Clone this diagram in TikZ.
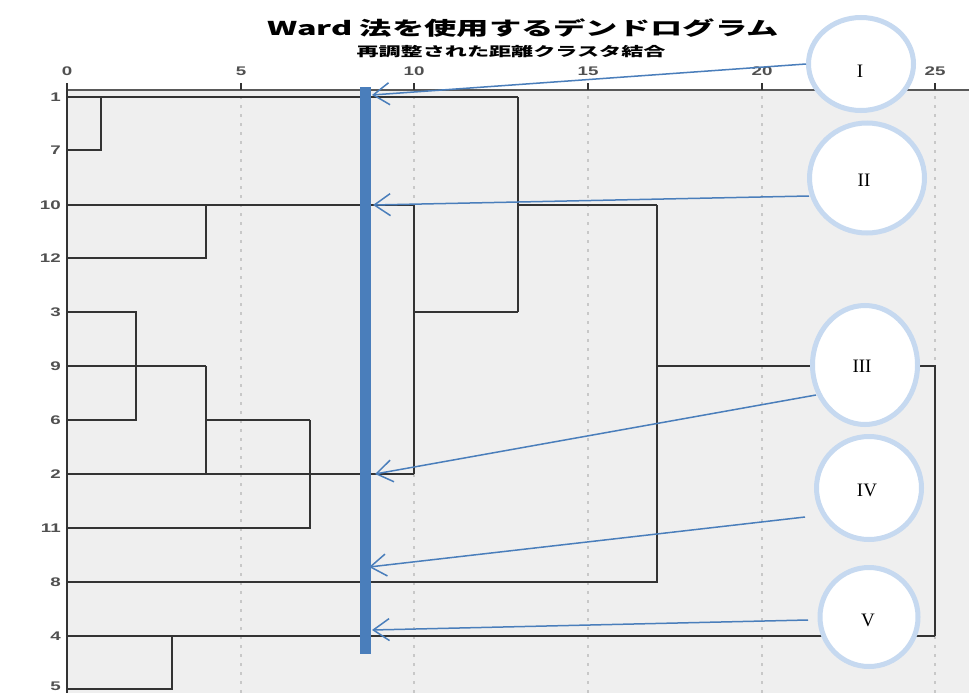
\documentclass[tikz,border=0pt]{standalone}
\usepackage{fontspec}
\setmainfont{Liberation Serif}
\setsansfont{Liberation Sans}
\newfontfamily\cjk{Noto Sans CJK JP}
\usetikzlibrary{shapes.geometric,arrows.meta}
\definecolor{bluebar}{HTML}{4A7EBB}
\definecolor{ringc}{HTML}{C6D9F0}
\definecolor{bgc}{HTML}{EFEFEF}
\definecolor{dend}{HTML}{333333}
\definecolor{gridc}{HTML}{C8C8C8}
\definecolor{labc}{HTML}{505050}
\begin{document}
\begin{tikzpicture}[x=1pt,y=-1pt,
  dline/.style={draw=dend,line width=2.2pt},
  gline/.style={draw=gridc,line width=1.5pt,dash pattern=on 3pt off 6pt},
  ticklab/.style={font=\sffamily\bfseries\fontsize{12.5}{12.5}\selectfont,text=labc,xscale=1.5,inner sep=0pt},
  rowlab/.style={font=\sffamily\bfseries\fontsize{12.5}{12.5}\selectfont,text=labc,xscale=1.5,inner sep=0pt,anchor=east},
  ring/.style={ellipse,draw=ringc,line width=5pt,fill=white,inner sep=0pt},
  numlab/.style={font=\fontsize{19}{19}\selectfont,inner sep=0pt},
  arr/.style={draw=bluebar,line width=1.5pt,-{Straight Barb[length=16pt,width=22pt,line width=1.5pt]}}]
\useasboundingbox (0,0) rectangle (969,693);
\fill[white] (0,0) rectangle (969,693);
\fill[bgc] (67,90) rectangle (969,693);
% titles
\node[font=\cjk\bfseries\fontsize{19}{19}\selectfont,xscale=1.7,inner sep=0pt] (title) at (523,28) {Ward 法を使用するデンドログラム};
\node[font=\cjk\bfseries\fontsize{13}{13}\selectfont,xscale=1.7,inner sep=0pt] (subtitle) at (511,52) {再調整された距離クラスタ結合};
% grid lines
\foreach \gx in {241,414,588,762,935} \draw[gline] (\gx,96) -- (\gx,693);
% axes
\draw[draw=gray!70!black,line width=2.2pt] (67,90) -- (969,90);
\foreach \gx/\lab in {67/0,241/5,414/10,588/15,762/20,935/25}{
  \draw[draw=dend,line width=1.5pt] (\gx,83) -- (\gx,90);
  \node[ticklab] (t\lab) at (\gx,71) {\lab};
}
\draw[draw=dend,line width=2.5pt] (67,90) -- (67,693);
% row labels
\foreach \ry/\lab in {97/1,150/7,205/10,258/12,312/3,366/9,420/6,474/2,528/11,582/8,636/4,686/5}
  \node[rowlab] (r\lab) at (61,\ry) {\lab};
% dendrogram
\draw[dline] (67,97) -- (518,97);
\draw[dline] (67,150) -- (101,150) -- (101,97);
\draw[dline] (67,205) -- (414,205);
\draw[dline] (67,258) -- (206,258) -- (206,205);
\draw[dline] (67,312) -- (136,312) -- (136,420) -- (67,420);
\draw[dline] (67,366) -- (206,366);
\draw[dline] (206,366) -- (206,474);
\draw[dline] (206,420) -- (310,420);
\draw[dline] (67,474) -- (414,474);
\draw[dline] (67,528) -- (310,528) -- (310,420);
\draw[dline] (414,205) -- (414,474);
\draw[dline] (414,312) -- (518,312);
\draw[dline] (518,97) -- (518,312);
\draw[dline] (518,205) -- (657,205);
\draw[dline] (67,582) -- (657,582) -- (657,205);
\draw[dline] (657,366) -- (935,366) -- (935,636);
\draw[dline] (67,636) -- (935,636);
\draw[dline] (67,689) -- (172,689) -- (172,636);
% blue bar
\fill[bluebar] (360,87) rectangle (371,654);
% circles
\node[ring,minimum width=105pt,minimum height=93pt] (cI) at (861,64) {};
\node[ring,minimum width=115pt,minimum height=110pt] (cII) at (867,178) {};
\node[ring,minimum width=105pt,minimum height=119pt] (cIII) at (865,365) {};
\node[ring,minimum width=105pt,minimum height=103pt] (cIV) at (869,488) {};
\node[ring,minimum width=98pt,minimum height=99pt] (cV) at (869,617) {};
\node[numlab] (lI) at (860,71) {I};
\node[numlab] (lII) at (864,180) {II};
\node[numlab] (lIII) at (862,366) {III};
\node[numlab] (lIV) at (867,490) {IV};
\node[numlab] (lV) at (868,620) {V};
% arrow ends
\coordinate (sI) at (806,64);
\coordinate (sII) at (809,196);
\coordinate (sIII) at (816,395);
\coordinate (sIV) at (805,517);
\coordinate (sV) at (808,620);
\coordinate (eI) at (372,95);
\coordinate (eII) at (373,205);
\coordinate (eIII) at (375,474);
\coordinate (eIV) at (369,567);
\coordinate (eV) at (372,630);
\draw[arr] (sI) -- (eI);
\draw[arr] (sII) -- (eII);
\draw[arr] (sIII) -- (eIII);
\draw[arr] (sIV) -- (eIV);
\draw[arr] (sV) -- (eV);
\end{tikzpicture}
\end{document}
